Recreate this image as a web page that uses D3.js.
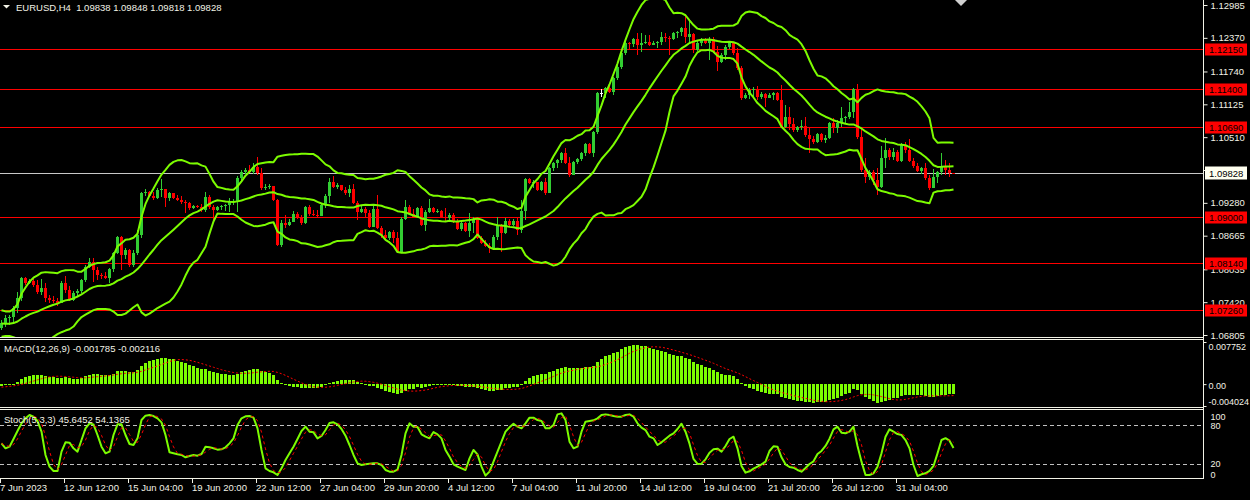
<!DOCTYPE html>
<html><head><meta charset="utf-8">
<script src="https://d3js.org/d3.v7.min.js"></script>
<style>
html,body{margin:0;padding:0;background:#000;overflow:hidden;}
svg{display:block;font-family:"Liberation Sans",Arial,sans-serif;}
</style></head><body>
<svg id="chart" width="1250" height="500"></svg>
<script>
// ---------------- DATA ----------------
const symbolTitle = "EURUSD,H4";
const lastBar = [1.09838, 1.09848, 1.09818, 1.09828];
// closes of the bars just before the visible window (warm-up of the indicators)
const priorCloses = [1.0724,1.0716,1.0705,1.0690,1.0684,1.0694,1.0705,1.0716,1.0712,1.0697,1.0686,1.0681,1.0690,1.0697,1.0705,1.0716,1.0720,1.0709,1.0694];
const closes = [
1.0703,1.0712,1.0714,1.0731,1.0750,1.0787,1.0778,1.0782,1.0774,1.0761,
1.0769,1.0750,1.0746,1.0744,1.0740,1.0778,1.0765,1.0746,1.0759,1.0763,
1.0784,1.0808,1.0817,1.0802,1.0793,1.0791,1.0787,1.0804,1.0834,1.0864,
1.0830,1.0840,1.0812,1.0834,1.0868,1.0946,1.0948,1.0941,1.0937,1.0952,
1.0954,1.0937,1.0946,1.0937,1.0933,1.0930,1.0928,1.0918,1.0922,1.0920,
1.0915,1.0939,1.0920,1.0915,1.0920,1.0922,1.0924,1.0930,1.0931,1.0974,
1.0986,1.0990,1.0986,1.0995,1.0984,1.0956,1.0958,1.0960,1.0933,1.0849,
1.0890,1.0886,1.0892,1.0907,1.0901,1.0890,1.0920,1.0907,1.0905,1.0903,
1.0924,1.0941,1.0967,1.0958,1.0961,1.0952,1.0946,1.0954,1.0928,1.0911,
1.0916,1.0909,1.0883,1.0916,1.0881,1.0868,1.0862,1.0873,1.0862,1.0836,
1.0898,1.0920,1.0907,1.0901,1.0918,1.0886,1.0911,1.0918,1.0911,1.0913,
1.0901,1.0900,1.0905,1.0892,1.0879,1.0890,1.0875,1.0890,1.0898,1.0862,
1.0853,1.0847,1.0843,1.0864,1.0886,1.0871,1.0894,1.0886,1.0894,1.0877,
1.0913,1.0973,1.0965,1.0967,1.0952,1.0967,1.0946,1.0993,1.1003,1.1008,
1.1021,1.1003,1.0980,1.1005,1.1010,1.1021,1.1038,1.1021,1.1061,1.1134,
1.1134,1.1144,1.1136,1.1162,1.1182,1.1209,1.1227,1.1226,1.1235,1.1224,
1.1227,1.1229,1.1224,1.1227,1.1229,1.1239,1.1237,1.1235,1.1246,1.1248,
1.1256,1.1239,1.1244,1.1214,1.1227,1.1233,1.1227,1.1235,1.1211,1.1192,
1.1205,1.1220,1.1227,1.1209,1.1181,1.1125,1.1130,1.1139,1.1141,1.1126,
1.1132,1.1125,1.1130,1.1134,1.1121,1.1070,1.1089,1.1076,1.1064,1.1070,
1.1072,1.1055,1.1047,1.1042,1.1057,1.1046,1.1049,1.1078,1.1068,1.1078,
1.1087,1.1089,1.1098,1.1141,1.1051,1.0990,1.0976,1.0986,1.0971,1.0958,
1.1012,1.1027,1.1014,1.1023,1.1007,1.1036,1.1027,1.1007,1.0997,1.0988,
1.0993,1.0974,1.0956,1.0976,1.0986,1.0997,1.0990,1.09838,1.09828];
const highs = [
1.0709,1.0718,1.0718,1.0735,1.0761,1.0789,1.0789,1.0785,1.0785,1.0784,
1.0785,1.0778,1.0755,1.0754,1.0750,1.0782,1.0791,1.0772,1.0763,1.0767,
1.0785,1.0812,1.0825,1.0825,1.0808,1.0797,1.0798,1.0806,1.0836,1.0866,
1.0866,1.0843,1.0842,1.0840,1.0877,1.0948,1.0954,1.0950,1.0948,1.0956,
1.0973,1.0954,1.0948,1.0946,1.0943,1.0941,1.0933,1.0930,1.0924,1.0924,
1.0926,1.0948,1.0943,1.0924,1.0922,1.0924,1.0926,1.0937,1.0935,1.0978,
1.0990,1.0993,1.0999,1.1003,1.1014,1.0993,1.0963,1.0963,1.0960,1.0935,
1.0896,1.0905,1.0898,1.0913,1.0911,1.0905,1.0922,1.0924,1.0915,1.0915,
1.0928,1.0945,1.0974,1.0978,1.0965,1.0960,1.0958,1.0961,1.0963,1.0931,
1.0924,1.0920,1.0915,1.0924,1.0943,1.0885,1.0877,1.0875,1.0877,1.0873,
1.0901,1.0933,1.0924,1.0916,1.0920,1.0922,1.0915,1.0935,1.0920,1.0916,
1.0915,1.0918,1.0909,1.0909,1.0898,1.0892,1.0892,1.0909,1.0901,1.0894,
1.0866,1.0858,1.0853,1.0868,1.0901,1.0888,1.0900,1.0898,1.0898,1.0900,
1.0933,1.0974,1.0974,1.0971,1.0967,1.0969,1.0974,1.0995,1.1005,1.1010,
1.1023,1.1031,1.1014,1.1007,1.1012,1.1023,1.1040,1.1040,1.1063,1.1136,
1.1141,1.1145,1.1149,1.1164,1.1186,1.1211,1.1231,1.1229,1.1237,1.1246,
1.1246,1.1242,1.1242,1.1231,1.1231,1.1248,1.1246,1.1241,1.1248,1.1250,
1.1257,1.1278,1.1269,1.1246,1.1233,1.1237,1.1237,1.1239,1.1239,1.1222,
1.1209,1.1224,1.1231,1.1229,1.1218,1.1184,1.1134,1.1144,1.1145,1.1147,
1.1136,1.1134,1.1134,1.1136,1.1136,1.1149,1.1111,1.1108,1.1087,1.1072,
1.1083,1.1089,1.1068,1.1053,1.1059,1.1059,1.1055,1.1079,1.1087,1.1083,
1.1108,1.1091,1.1117,1.1144,1.1151,1.1068,1.1012,1.0990,1.0990,1.0993,
1.1034,1.1049,1.1031,1.1031,1.1027,1.1040,1.1042,1.1047,1.1012,1.1003,
1.0995,1.1003,1.0980,1.0991,1.0988,1.1021,1.1008,1.1003,1.09848];
const lows = [
1.0690,1.0696,1.0699,1.0705,1.0722,1.0744,1.0774,1.0776,1.0770,1.0757,
1.0755,1.0742,1.0740,1.0740,1.0735,1.0740,1.0759,1.0744,1.0744,1.0752,
1.0759,1.0780,1.0806,1.0780,1.0784,1.0785,1.0785,1.0778,1.0798,1.0832,
1.0802,1.0823,1.0808,1.0808,1.0830,1.0862,1.0941,1.0939,1.0933,1.0935,
1.0939,1.0920,1.0931,1.0935,1.0931,1.0926,1.0909,1.0915,1.0916,1.0918,
1.0911,1.0911,1.0916,1.0896,1.0913,1.0915,1.0913,1.0911,1.0924,1.0911,
1.0971,1.0982,1.0984,1.0982,1.0980,1.0952,1.0952,1.0954,1.0931,1.0847,
1.0845,1.0881,1.0885,1.0892,1.0898,1.0886,1.0888,1.0903,1.0903,1.0901,
1.0903,1.0918,1.0928,1.0956,1.0954,1.0950,1.0943,1.0939,1.0926,1.0896,
1.0909,1.0901,1.0881,1.0883,1.0879,1.0862,1.0858,1.0858,1.0853,1.0834,
1.0836,1.0896,1.0905,1.0900,1.0900,1.0885,1.0875,1.0909,1.0909,1.0909,
1.0900,1.0892,1.0894,1.0890,1.0877,1.0875,1.0873,1.0864,1.0871,1.0860,
1.0851,1.0845,1.0834,1.0842,1.0858,1.0836,1.0870,1.0883,1.0885,1.0868,
1.0871,1.0896,1.0963,1.0956,1.0950,1.0950,1.0943,1.0946,1.0988,1.0993,
1.1003,1.1001,1.0976,1.0980,1.1001,1.1007,1.1016,1.1019,1.1014,1.1057,
1.1126,1.1125,1.1134,1.1130,1.1158,1.1179,1.1205,1.1214,1.1220,1.1205,
1.1211,1.1226,1.1222,1.1224,1.1218,1.1224,1.1229,1.1205,1.1233,1.1237,
1.1241,1.1227,1.1229,1.1209,1.1212,1.1222,1.1226,1.1196,1.1209,1.1175,
1.1190,1.1196,1.1216,1.1205,1.1177,1.1121,1.1123,1.1123,1.1126,1.1121,
1.1123,1.1108,1.1125,1.1121,1.1119,1.1068,1.1068,1.1064,1.1061,1.1061,
1.1064,1.1051,1.1021,1.1038,1.1040,1.1042,1.1040,1.1047,1.1059,1.1059,
1.1070,1.1076,1.1085,1.1087,1.1047,1.0986,1.0965,1.0971,1.0961,1.0943,
1.0956,1.0993,1.1008,1.1008,1.1005,1.1005,1.1021,1.1005,1.0993,1.0986,
1.0982,1.0971,1.0952,1.0956,1.0965,1.0980,1.0980,1.0976,1.09818];
const stochK = [
52.5,45,47.5,59,71,82.5,90,95,92.5,86,
70,35,17.5,11,11,40,54,53.5,45,40,
57.5,75,82.5,81,65,47.5,37.5,40,65,81,
81,65,51.5,50,60,87.5,94,95,93.5,90,
84,65,39,37.5,36,35,31.5,33.5,35,34,
36.5,47.5,46.5,45,43,43.5,46.5,52.5,60,80,
90,93,93.5,91,75,42.5,15,11,9,5,
15,27.5,37.5,47.5,59,71,77.5,70,69,60,
63.5,72.5,83,84,81,74,64,50,35,22.5,
20,21,22,22.5,22.5,20,12.5,10,10,13,
35,67.5,82.5,77.5,77,66,62.5,60,69.5,66,
60,42.5,32.5,21,17.5,15,12.5,30,42.5,36,
17.5,4,10,25,40,55,70,76.5,82,77.5,
75,82.5,91,91,87.5,86,75,75,80,96,
97.5,87.5,55,45,47.5,70,85,86,87,90,
95,96,95,93.5,92.5,92.5,95,96,92.5,82.5,
76,72.5,62.5,60,50,54,59,64,67.5,74,
82,70,52,29,21.5,22,28.5,38.5,43.5,44.5,
40,48.5,59,62.5,45,18.5,8.5,10.5,14.5,17.5,
21,25,41,48,47.5,31.5,21,17,16,12.5,
10,15.5,21.5,25.5,36.5,41,48.5,59.5,73.5,77.5,
68.5,67.5,70,77.5,48.5,25,5,5,7.5,17.5,
37.5,62.5,73.5,70,66.5,65,57.5,45,20,3.5,
6,7.5,11,18.5,37.5,57.5,60.3,56.4643,45.6452];
const macdHeader = [-0.001785, -0.002116];
const priceTicks = [1.12985,1.12370,1.11740,1.11125,1.10510,1.09895,1.09280,1.08665,1.08035,1.07420,1.06805];
const levelPrices = [1.12150,1.11400,1.10690,1.09000,1.08140,1.07260];
const bidPrice = 1.09828;
const macdTicks = [0.007752, 0, -0.004024];
const macdTickLabels = ["0.007752","0.00","-0.004024"];
const stochTicks = [100,80,20,0];
const stochLevels = [80,20];
const xLabelBars = [0,16,32,48,64,80,96,112,128,144,160,176,192,208,224];
const xLabelTexts = ["7 Jun 2023","12 Jun 12:00","15 Jun 04:00","19 Jun 20:00","22 Jun 12:00","27 Jun 04:00","29 Jun 20:00","4 Jul 12:00","7 Jul 04:00","11 Jul 20:00","14 Jul 12:00","19 Jul 04:00","21 Jul 20:00","26 Jul 12:00","31 Jul 04:00"];

// ---------------- STYLE ----------------
const FG="#f2f2e6", BULL="#32cd32", BEAR="#ff0000", IND="#7cfc00", LEVEL="#ff0000";
const FS="9.5px";
const axisX = 1203.5;

const svg = d3.select("#chart");
svg.append("rect").attr("width",1250).attr("height",500).attr("fill","#000");

const n = closes.length, P = priorCloses.length;
const allCloses = priorCloses.concat(closes);
const opens = closes.map((c,i)=>allCloses[P+i-1]);

const x = d3.scaleLinear().domain([0,n-1]).range([0,4*(n-1)]);
const cx = i => x(i)+1.5;
const yP = d3.scaleLinear().domain([1.06805,1.12985]).range([335,5]);
const yM = d3.scaleLinear().domain([macdTicks[2],macdTicks[0]]).range([406,342]);
const yS = d3.scaleLinear().domain([0,100]).range([478.3,411.7]);

// ---------------- INDICATORS ----------------
const bb = closes.map((c,i)=>{
  const idx=P+i;
  const win=allCloses.slice(Math.max(0,idx-19), idx+1);
  const m=d3.mean(win);
  const sd=Math.sqrt(d3.mean(win, v=>(v-m)*(v-m)));
  return {m:m, u:m+2*sd, l:m-2*sd};
});
function ema(len){const a=2/(len+1); let e=allCloses[0]; return allCloses.map(v=> (e = e + a*(v-e)));}
const e12=ema(12), e26=ema(26);
const macdAll=e12.map((v,i)=>v-e26[i]);
const signalAll=macdAll.map((v,i)=>d3.mean(macdAll.slice(Math.max(0,i-8),i+1)));
const macd=macdAll.slice(P), signal=signalAll.slice(P);
const stochD=stochK.map((v,i)=>d3.mean(stochK.slice(Math.max(0,i-2),i+1)));

// ---------------- CLIPS ----------------
const defs=svg.append("defs");
defs.append("clipPath").attr("id","cMain").append("rect").attr("x",0).attr("y",0).attr("width",axisX).attr("height",337);
defs.append("clipPath").attr("id","cMacd").append("rect").attr("x",0).attr("y",340).attr("width",axisX).attr("height",67);
defs.append("clipPath").attr("id","cSto").append("rect").attr("x",0).attr("y",410).attr("width",axisX).attr("height",68);

// ---------------- MAIN ----------------
const gMain=svg.append("g").attr("clip-path","url(#cMain)");
gMain.selectAll("line.lvl").data(levelPrices).join("line").attr("class","lvl")
  .attr("x1",0).attr("x2",axisX)
  .attr("y1",d=>Math.floor(yP(d))+0.5).attr("y2",d=>Math.floor(yP(d))+0.5)
  .attr("stroke",LEVEL).attr("stroke-width",1);
gMain.append("line").attr("x1",0).attr("x2",axisX)
  .attr("y1",Math.floor(yP(bidPrice))+0.5).attr("y2",Math.floor(yP(bidPrice))+0.5)
  .attr("stroke","#c8c8c8").attr("stroke-width",1);

const candleColor=i=> closes[i]>opens[i]?BULL:(closes[i]<opens[i]?BEAR:"#ffffff");
const gC=gMain.append("g").attr("shape-rendering","crispEdges");
const idx=d3.range(n);
gC.selectAll("rect.wick").data(idx).join("rect").attr("class","wick")
  .attr("x",i=>x(i)+1).attr("width",1)
  .attr("y",i=>yP(Math.max(highs[i],opens[i],closes[i])))
  .attr("height",i=>Math.max(1,yP(Math.min(lows[i],opens[i],closes[i]))-yP(Math.max(highs[i],opens[i],closes[i]))))
  .attr("fill",candleColor);
gC.selectAll("rect.body").data(idx).join("rect").attr("class","body")
  .attr("x",i=>x(i)).attr("width",3)
  .attr("y",i=>Math.min(yP(opens[i]),yP(closes[i])))
  .attr("height",i=>Math.max(1,Math.abs(yP(opens[i])-yP(closes[i]))))
  .attr("fill",candleColor);

const bbLine=key=>d3.line().x((d,i)=>cx(i)).y(d=>yP(d[key]));
["u","m","l"].forEach(k=>{
  gMain.append("path").datum(bb).attr("d",bbLine(k)).attr("fill","none")
    .attr("stroke",IND).attr("stroke-width",2).attr("stroke-linejoin","round");
});

// ---------------- MACD ----------------
const gM=svg.append("g").attr("clip-path","url(#cMacd)");
gM.append("g").attr("shape-rendering","crispEdges").selectAll("rect").data(macd).join("rect")
  .attr("x",(d,i)=>x(i)).attr("width",3)
  .attr("y",d=>Math.min(yM(d),yM(0)))
  .attr("height",d=>Math.max(1,Math.abs(yM(d)-yM(0))))
  .attr("fill",IND);
gM.append("path").datum(signal)
  .attr("d",d3.line().x((d,i)=>cx(i)).y(d=>yM(d)))
  .attr("fill","none").attr("stroke","#ff0000").attr("stroke-width",1).attr("stroke-dasharray","2,2");

// ---------------- STOCH ----------------
const gS=svg.append("g").attr("clip-path","url(#cSto)");
gS.selectAll("line.sl").data(stochLevels).join("line").attr("class","sl")
  .attr("x1",0).attr("x2",axisX)
  .attr("y1",d=>Math.floor(yS(d))+0.5).attr("y2",d=>Math.floor(yS(d))+0.5)
  .attr("stroke","#c0c0c0").attr("stroke-dasharray","4,3");
gS.append("path").datum(stochK)
  .attr("d",d3.line().x((d,i)=>cx(i)).y(d=>yS(d)))
  .attr("fill","none").attr("stroke",IND).attr("stroke-width",2).attr("stroke-linejoin","round");
gS.append("path").datum(stochD)
  .attr("d",d3.line().x((d,i)=>cx(i)).y(d=>yS(d)))
  .attr("fill","none").attr("stroke","#ff0000").attr("stroke-width",1).attr("stroke-dasharray","3,3");

// ---------------- FRAMES ----------------
[337.5,339.5,407.5,409.5,478.5].forEach(yy=>{
  svg.append("line").attr("x1",0).attr("x2",axisX).attr("y1",yy).attr("y2",yy).attr("stroke",FG);
});
svg.append("line").attr("x1",axisX).attr("x2",axisX).attr("y1",0).attr("y2",479).attr("stroke",FG);

// ---------------- AXES ----------------
function styleAxis(g, fs){
  g.select(".domain").remove();
  g.selectAll(".tick line").attr("stroke",FG);
  g.selectAll(".tick text").attr("fill",FG).style("font-size",fs||FS).style("font-family","'Liberation Sans',Arial,sans-serif");
}
const axP=svg.append("g").attr("transform",`translate(${axisX},0)`)
  .call(d3.axisRight(yP).tickValues(priceTicks).tickSize(4).tickPadding(3).tickFormat(d3.format(".5f")));
styleAxis(axP);

const axM=svg.append("g").attr("transform",`translate(${axisX},0)`)
  .call(d3.axisRight(yM).tickValues(macdTicks).tickSize(3).tickPadding(2).tickFormat((d,i)=>macdTickLabels[i]));
styleAxis(axM,"9px");
axM.selectAll(".tick text").attr("transform",d=> d===macdTicks[0]?"translate(0,5)":(d===macdTicks[2]?"translate(0,-4)":"translate(0,1)"));

const axS=svg.append("g").attr("transform",`translate(${axisX},0)`)
  .call(d3.axisRight(yS).tickValues(stochTicks).tickSize(0).tickPadding(7).tickFormat(d3.format("d")));
styleAxis(axS,"9px");
axS.selectAll(".tick text").attr("transform",d=> d===100?"translate(0,5)":(d===0?"translate(0,-4)":(d===20?"translate(0,-1.5)":"translate(0,0.5)")));

const axX=svg.append("g").attr("transform","translate(0,479)")
  .call(d3.axisBottom(x).tickValues(xLabelBars).tickSize(4).tickFormat((d,i)=>xLabelTexts[i]));
styleAxis(axX);
axX.selectAll(".tick text").attr("text-anchor","start").attr("x",-0.5).attr("y",5);

// level label boxes
levelPrices.forEach(p=>{
  const yy=Math.floor(yP(p))+0.5;
  svg.append("rect").attr("x",1205).attr("y",yy-6).attr("width",42).attr("height",12).attr("fill","#ff0000");
  svg.append("text").attr("x",1209).attr("y",yy+3.5).attr("fill","#000").style("font-size",FS).text(d3.format(".5f")(p));
});
{
  const yy=Math.floor(yP(bidPrice))+0.5;
  svg.append("rect").attr("x",1205).attr("y",yy-7).attr("width",42).attr("height",13).attr("fill","#fffff0");
  svg.append("text").attr("x",1209).attr("y",yy+3.5).attr("fill","#000").style("font-size",FS).text(d3.format(".5f")(bidPrice));
}

// ---------------- TITLES ----------------
svg.append("path").attr("d","M3,5 L10,5 L6.5,8.5 Z").attr("fill",FG);
svg.append("text").attr("x",16).attr("y",11).attr("fill",FG).style("font-size",FS)
  .attr("xml:space","preserve")
  .text(symbolTitle+"  "+lastBar.map(d3.format(".5f")).join(" "));
svg.append("text").attr("x",4).attr("y",352).attr("fill",FG).style("font-size",FS)
  .text("MACD(12,26,9) "+macdHeader.map(d3.format(".6f")).join(" ").replace(/−/g,"-"));
svg.append("text").attr("x",4).attr("y",423).attr("fill",FG).style("font-size",FS)
  .text("Stoch(5,3,3) "+d3.format(".4f")(stochK[n-1])+" "+d3.format(".4f")(stochD[n-1]));
svg.append("path").attr("d","M955,0 L967,0 L961,6 Z").attr("fill","#d0d0d0");
</script>
</body></html>
